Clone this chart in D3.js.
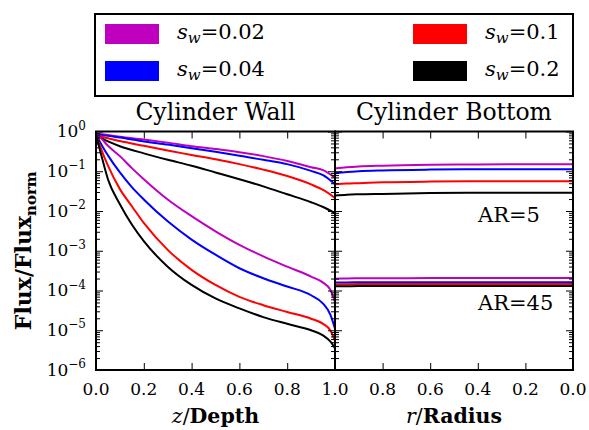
<!DOCTYPE html>
<html><head><meta charset="utf-8">
<script src="https://cdn.jsdelivr.net/npm/d3@7"></script>
<style>
body{margin:0;background:#fff}
svg{display:block}
text{font-family:"DejaVu Serif",serif;fill:#000}
</style>
</head><body>
<svg id="c" width="589" height="430"></svg>
<script>
// ---------------- data ----------------
const swLabels = ["0.02", "0.04", "0.1", "0.2"];
const seriesColors = ["#bf00bf", "#0000ff", "#ff0000", "#000000"];

// Cylinder wall, AR=5 (upper family), flux vs z/Depth
const zAR5 = [0, 0.05, 0.1, 0.2, 0.3, 0.4, 0.5, 0.6, 0.7, 0.8, 0.9, 0.95, 1.0];
const wallAR5_sw002 = [0.891, 0.813, 0.741, 0.631, 0.525, 0.427, 0.363, 0.302, 0.240, 0.182, 0.126, 0.107, 0.069];
const wallAR5_sw004 = [0.871, 0.776, 0.708, 0.562, 0.468, 0.380, 0.309, 0.245, 0.195, 0.151, 0.102, 0.0794, 0.0468];
const wallAR5_sw01  = [0.832, 0.676, 0.575, 0.437, 0.331, 0.257, 0.200, 0.151, 0.110, 0.0759, 0.0468, 0.0339, 0.0214];
const wallAR5_sw02  = [0.794, 0.562, 0.427, 0.282, 0.195, 0.138, 0.0933, 0.0631, 0.0417, 0.0263, 0.0166, 0.0126, 0.0089];

// Cylinder wall, AR=45 (lower family)
const zAR45 = [0, 0.02, 0.05, 0.1, 0.15, 0.2, 0.3, 0.4, 0.5, 0.6, 0.7, 0.8, 0.9, 0.95, 0.98, 1.0];
const wallAR45_sw002 = [0.891, 0.692, 0.437, 0.240, 0.120, 0.0631, 0.0195, 0.00741, 0.00309, 0.00141, 7.24e-4, 3.98e-4, 2.24e-4, 1.58e-4, 1.05e-4, 5.13e-5];
const wallAR45_sw004 = [0.871, 0.501, 0.251, 0.0933, 0.0398, 0.0195, 0.00550, 0.00191, 7.94e-4, 3.63e-4, 2.04e-4, 1.26e-4, 7.59e-5, 4.68e-5, 2.51e-5, 1.10e-5];
const wallAR45_sw01  = [0.832, 0.380, 0.138, 0.0355, 0.0132, 0.00501, 0.00105, 3.31e-4, 1.38e-4, 6.92e-5, 4.27e-5, 2.88e-5, 1.95e-5, 1.45e-5, 1.0e-5, 5.5e-6];
const wallAR45_sw02  = [0.794, 0.282, 0.0631, 0.0148, 0.00457, 0.00174, 3.98e-4, 1.38e-4, 6.31e-5, 3.55e-5, 2.14e-5, 1.45e-5, 1.0e-5, 7.41e-6, 5.25e-6, 3.55e-6];

// Cylinder bottom, flux vs r/Radius
const rGrid = [1.0, 0.95, 0.9, 0.8, 0.6, 0.4, 0.2, 0.0];
const bottomAR5_sw002 = [0.117, 0.126, 0.132, 0.138, 0.145, 0.148, 0.151, 0.151];
const bottomAR5_sw004 = [0.0891, 0.0955, 0.100, 0.105, 0.110, 0.112, 0.112, 0.112];
const bottomAR5_sw01  = [0.0468, 0.0490, 0.0501, 0.0525, 0.0550, 0.0562, 0.0562, 0.0562];
const bottomAR5_sw02  = [0.0245, 0.0257, 0.0263, 0.0269, 0.0282, 0.0288, 0.0288, 0.0288];
const bottomAR45_sw002 = [1.98e-4, 2.01e-4, 2.03e-4, 2.04e-4, 2.05e-4, 2.05e-4, 2.05e-4, 2.05e-4];
const bottomAR45_sw004 = [1.58e-4, 1.60e-4, 1.61e-4, 1.62e-4, 1.62e-4, 1.62e-4, 1.62e-4, 1.62e-4];
const bottomAR45_sw01  = [1.42e-4, 1.44e-4, 1.45e-4, 1.45e-4, 1.46e-4, 1.46e-4, 1.46e-4, 1.46e-4];
const bottomAR45_sw02  = [1.27e-4, 1.28e-4, 1.29e-4, 1.29e-4, 1.29e-4, 1.29e-4, 1.29e-4, 1.29e-4];

const xTicksWall = [0, 0.2, 0.4, 0.6, 0.8, 1.0];
const xTicksBottom = [1.0, 0.8, 0.6, 0.4, 0.2, 0.0];
const yMajorTicks = [1, 1e-1, 1e-2, 1e-3, 1e-4, 1e-5, 1e-6];
const yMajorExp = ["0", "\u22121", "\u22122", "\u22123", "\u22124", "\u22125", "\u22126"];
const arLabels = ["AR=5", "AR=45"];

// ---------------- drawing ----------------
const svg = d3.select("#c");
const P = {l: 96, m: 335, r: 573, t: 131.5, b: 370};

const xL = d3.scaleLinear().domain([0, 1]).range([P.l, P.m]);
const xR = d3.scaleLinear().domain([1, 0]).range([P.m, P.r]);
const y = d3.scaleLog().domain([1e-6, 1]).range([P.b, P.t]);

const defs = svg.append("defs");
defs.append("clipPath").attr("id", "clipL").append("rect")
  .attr("x", P.l).attr("y", P.t).attr("width", P.m - P.l).attr("height", P.b - P.t);
defs.append("clipPath").attr("id", "clipR").append("rect")
  .attr("x", P.m).attr("y", P.t).attr("width", P.r - P.m).attr("height", P.b - P.t);

function drawSeries(group, xs, ys, xScale, color) {
  const line = d3.line().x(d => xScale(d[0])).y(d => y(d[1])).curve(d3.curveMonotoneX);
  const pts = xs.map((x, i) => [x, ys[i]]);
  group.append("path").attr("d", line(pts)).attr("fill", "none")
    .attr("stroke", color).attr("stroke-width", 2).attr("stroke-linejoin", "round");
}

const gL = svg.append("g").attr("clip-path", "url(#clipL)");
const gR = svg.append("g").attr("clip-path", "url(#clipR)");
[wallAR5_sw002, wallAR5_sw004, wallAR5_sw01, wallAR5_sw02].forEach((s, i) => drawSeries(gL, zAR5, s, xL, seriesColors[i]));
[wallAR45_sw002, wallAR45_sw004, wallAR45_sw01, wallAR45_sw02].forEach((s, i) => drawSeries(gL, zAR45, s, xL, seriesColors[i]));
[bottomAR5_sw002, bottomAR5_sw004, bottomAR5_sw01, bottomAR5_sw02].forEach((s, i) => drawSeries(gR, rGrid, s, xR, seriesColors[i]));
[bottomAR45_sw002, bottomAR45_sw004, bottomAR45_sw01, bottomAR45_sw02].forEach((s, i) => drawSeries(gR, rGrid, s, xR, seriesColors[i]));

// ticks
function styleAxis(g) {
  g.select(".domain").remove();
  g.selectAll(".tick line").attr("stroke", "#000").attr("stroke-width", 1);
  g.selectAll(".tick text").remove();
}
const minorY = y.ticks().filter(v => !yMajorTicks.some(m => Math.abs(m - v) / m < 1e-6));

svg.append("g").attr("transform", `translate(0,${P.b})`)
  .call(d3.axisBottom(xL).tickValues(xTicksWall).tickSize(-7)).call(styleAxis);
svg.append("g").attr("transform", `translate(0,${P.t})`)
  .call(d3.axisTop(xL).tickValues(xTicksWall).tickSize(-7)).call(styleAxis);
svg.append("g").attr("transform", `translate(0,${P.b})`)
  .call(d3.axisBottom(xR).tickValues(xTicksBottom).tickSize(-7)).call(styleAxis);
svg.append("g").attr("transform", `translate(0,${P.t})`)
  .call(d3.axisTop(xR).tickValues(xTicksBottom).tickSize(-7)).call(styleAxis);

// y ticks on each vertical spine
[[P.l, -1], [P.m, 1], [P.m, -1], [P.r, 1]].forEach(([xp, dir]) => {
  const axMaj = dir < 0 ? d3.axisLeft(y) : d3.axisRight(y);
  const axMin = dir < 0 ? d3.axisLeft(y) : d3.axisRight(y);
  svg.append("g").attr("transform", `translate(${xp},0)`)
    .call(axMaj.tickValues(yMajorTicks).tickSize(-7)).call(styleAxis);
  svg.append("g").attr("transform", `translate(${xp},0)`)
    .call(axMin.tickValues(minorY).tickSize(-4)).call(styleAxis);
});

// frames
svg.append("rect").attr("x", P.l).attr("y", P.t).attr("width", P.m - P.l).attr("height", P.b - P.t)
  .attr("fill", "none").attr("stroke", "#000").attr("stroke-width", 2);
svg.append("rect").attr("x", P.m).attr("y", P.t).attr("width", P.r - P.m).attr("height", P.b - P.t)
  .attr("fill", "none").attr("stroke", "#000").attr("stroke-width", 2);

// x tick labels
const fmt = d3.format(".1f");
xTicksWall.forEach(v => {
  svg.append("text").attr("x", xL(v)).attr("y", P.b + 25).attr("text-anchor", "middle")
    .attr("font-size", 17).text(fmt(v));
});
xTicksBottom.filter(v => v < 1).forEach(v => {
  svg.append("text").attr("x", xR(v)).attr("y", P.b + 25).attr("text-anchor", "middle")
    .attr("font-size", 17).text(fmt(v));
});

// y tick labels
yMajorTicks.forEach((v, i) => {
  const t = svg.append("text").attr("x", 86).attr("y", y(v) + 5.5).attr("text-anchor", "end").attr("font-size", 17);
  t.append("tspan").text("10");
  t.append("tspan").attr("font-size", 12).attr("dy", -7.5).text(yMajorExp[i]);
});

// titles
svg.append("text").attr("x", (P.l + P.m) / 2).attr("y", 120).attr("text-anchor", "middle")
  .attr("font-size", 23.5).text("Cylinder Wall");
svg.append("text").attr("x", (P.m + P.r) / 2).attr("y", 120).attr("text-anchor", "middle")
  .attr("font-size", 23.5).text("Cylinder Bottom");

// axis labels
const xl1 = svg.append("text").attr("x", (P.l + P.m) / 2).attr("y", 423).attr("text-anchor", "middle").attr("font-size", 20.5);
xl1.append("tspan").attr("font-style", "italic").text("z");
xl1.append("tspan").text("/");
xl1.append("tspan").attr("font-weight", "bold").text("Depth");
const xl2 = svg.append("text").attr("x", (P.m + P.r) / 2).attr("y", 423).attr("text-anchor", "middle").attr("font-size", 20.5);
xl2.append("tspan").attr("font-style", "italic").text("r");
xl2.append("tspan").text("/");
xl2.append("tspan").attr("font-weight", "bold").text("Radius");

const yl = svg.append("text").attr("transform", `translate(31,${(P.t + P.b) / 2}) rotate(-90)`)
  .attr("text-anchor", "middle").attr("font-size", 22).attr("font-weight", "bold");
yl.append("tspan").text("Flux/Flux");
yl.append("tspan").attr("font-size", 15).attr("dy", 5).text("norm");

// AR annotations
svg.append("text").attr("x", 478).attr("y", 222).attr("font-size", 21).text(arLabels[0]);
svg.append("text").attr("x", 478).attr("y", 310).attr("font-size", 21).text(arLabels[1]);

// legend
svg.append("rect").attr("x", 95).attr("y", 14).attr("width", 478).attr("height", 82)
  .attr("fill", "#fff").attr("stroke", "#000").attr("stroke-width", 2);
const legPos = [[105, 24], [105, 61], [413, 24], [413, 61]];
swLabels.forEach((lab, i) => {
  const [lx, ly] = legPos[i];
  svg.append("rect").attr("x", lx).attr("y", ly).attr("width", 54).attr("height", 20)
    .attr("fill", seriesColors[i]);
  const t = svg.append("text").attr("x", lx + 72).attr("y", ly + 15).attr("font-size", 21);
  t.append("tspan").attr("font-style", "italic").text("s");
  t.append("tspan").attr("font-style", "italic").attr("font-size", 15).attr("dy", 4).text("w");
  t.append("tspan").attr("dy", -4).text("=" + lab);
});
</script>
</body></html>
